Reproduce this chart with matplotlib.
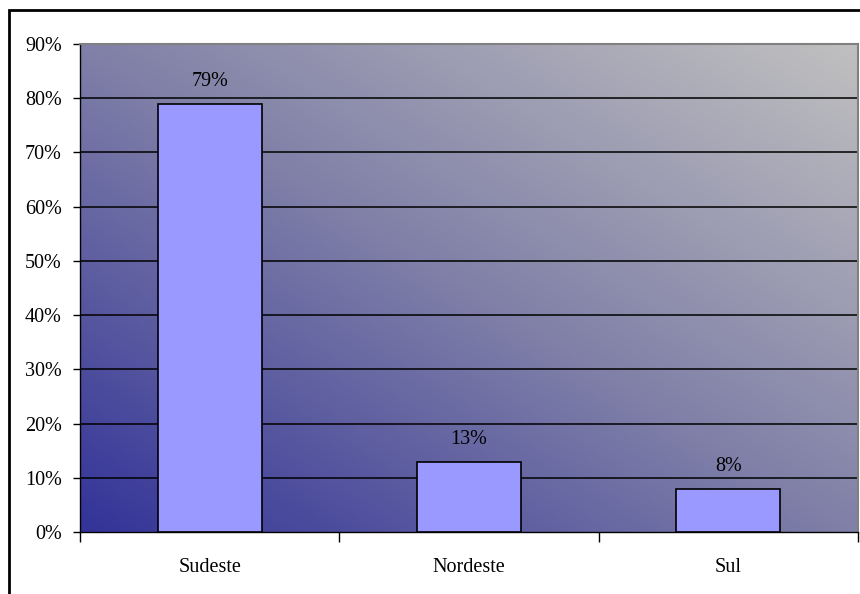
import matplotlib.pyplot as plt
import numpy as np
from matplotlib.colors import LinearSegmentedColormap
from matplotlib.patches import Rectangle

regioes = ['Sudeste', 'Nordeste', 'Sul']
percentuais = [79, 13, 8]
yticks = list(range(0, 100, 10))

plt.rcParams['font.family'] = ['Liberation Serif', 'DejaVu Serif']
plt.rcParams['font.size'] = 14.5

fig = plt.figure(figsize=(8.6, 5.94), dpi=100)
ax = fig.add_axes([80 / 860, 1 - 532 / 594, 778 / 860, 488 / 594])

# diagonal gradient background (dark blue bottom-left -> light grey top-right)
cmap = LinearSegmentedColormap.from_list('fundo', ['#333399', '#8080A8', '#C0C0C0'])
u, v = np.meshgrid(np.linspace(0, 1, 300), np.linspace(0, 1, 300))
grad = (u + v) / 2
ax.imshow(grad, cmap=cmap, origin='lower', extent=[0, 1, 0, 1],
          transform=ax.transAxes, aspect='auto', zorder=0, interpolation='bilinear')

x = np.arange(len(regioes))
ax.bar(x, percentuais, width=0.4, color='#9999FF', edgecolor='black', linewidth=1.2, zorder=3)
for xi, p in zip(x, percentuais):
    ax.annotate(f'{p}%', (xi, p), xytext=(0, 9), textcoords='offset points',
                ha='center', va='bottom')

ax.set_xlim(-0.5, 2.5)
ax.set_ylim(0, 90)
ax.set_yticks(yticks)
ax.set_yticklabels([f'{t}%' for t in yticks])
for t in yticks[1:-1]:
    ax.axhline(t, color='black', linewidth=1.1, zorder=1)

ax.set_xticks([-0.5, 0.5, 1.5, 2.5])
ax.set_xticklabels([])
ax.set_xticks(x, minor=True)
ax.set_xticklabels(regioes, minor=True)
ax.tick_params(axis='x', which='major', length=7, width=1, direction='out')
ax.tick_params(axis='x', which='minor', length=0, pad=19)
ax.tick_params(axis='y', length=5, width=1, direction='out', pad=8)

for s in ['top', 'right']:
    ax.spines[s].set_color('#808080')
    ax.spines[s].set_linewidth(1.5)
for s in ['left', 'bottom']:
    ax.spines[s].set_color('black')
    ax.spines[s].set_linewidth(1)

# outer chart border
fig.patches.append(Rectangle((9 / 860, -0.1), 1.2, 1 - 10 / 594 + 0.1, transform=fig.transFigure,
                             fill=False, edgecolor='black', linewidth=2, clip_on=False))

fig.savefig('out.png', dpi=100)
